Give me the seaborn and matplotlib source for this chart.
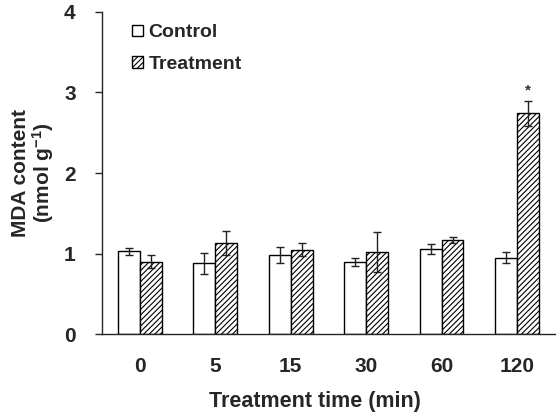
import matplotlib
matplotlib.use("Agg")
import matplotlib.pyplot as plt
import seaborn as sns
import pandas as pd
import numpy as np

times = ['0', '5', '15', '30', '60', '120']
control = [1.03, 0.88, 0.98, 0.90, 1.06, 0.95]
control_err = [0.04, 0.13, 0.10, 0.05, 0.06, 0.07]
treatment = [0.90, 1.13, 1.05, 1.02, 1.17, 2.74]
treatment_err = [0.08, 0.15, 0.08, 0.25, 0.035, 0.155]
groups = ['Control', 'Treatment']

df = pd.DataFrame({
    'time': times * 2,
    'mda': control + treatment,
    'group': [groups[0]] * len(times) + [groups[1]] * len(times),
})

sns.set_style('ticks')
plt.rcParams['font.family'] = ['Liberation Sans', 'DejaVu Sans']
plt.rcParams['font.weight'] = 'bold'
plt.rcParams['mathtext.default'] = 'regular'
plt.rcParams['hatch.color'] = '#333333'
plt.rcParams['hatch.linewidth'] = 0.8

fig = plt.figure(figsize=(5.59, 4.17), dpi=100)
ax = fig.add_axes([0.1825, 0.198, 0.81, 0.774])

sns.barplot(data=df, x='time', y='mda', hue='group', order=times,
            hue_order=groups, palette=['white', 'white'], width=0.58,
            errorbar=None, edgecolor='black', linewidth=1, ax=ax)

# hatch treatment bars, then draw error bars on every bar
cont_bars = ax.containers[0]
treat_bars = ax.containers[1]
for p in treat_bars:
    p.set_hatch('//////')
for bars, errs in [(cont_bars, control_err), (treat_bars, treatment_err)]:
    xs = [p.get_x() + p.get_width() / 2 for p in bars]
    ys = [p.get_height() for p in bars]
    ax.errorbar(xs, ys, yerr=errs, fmt='none', ecolor='#222222',
                elinewidth=1, capsize=3, capthick=1)

# significance mark
last = treat_bars[-1]
ax.text(last.get_x() + last.get_width() / 2, treatment[-1] + treatment_err[-1] + 0.04,
        '*', ha='center', va='bottom', fontsize=11, color='#333333')

ax.set_ylim(0, 4)
ax.set_xlim(-0.5, 5.5)
ax.set_yticks([0, 1, 2, 3, 4])
ax.tick_params(axis='y', labelsize=15, length=5, width=1, pad=14)
ax.tick_params(axis='x', labelsize=15, length=0, pad=16)
for lab in ax.get_xticklabels() + ax.get_yticklabels():
    lab.set_fontweight('bold')
sns.despine(ax=ax)
ax.spines['left'].set_linewidth(1)
ax.spines['bottom'].set_linewidth(1)

ax.set_xlabel('Treatment time (min)', fontsize=15.5, fontweight='bold')
ax.xaxis.set_label_coords(0.47, -0.175)
ax.set_ylabel('MDA content\n(nmol g$^{-1}$)', fontsize=15,
              fontweight='bold', labelpad=6, linespacing=1.0)

ax.legend(handles=[cont_bars[0], treat_bars[0]], labels=groups,
          loc='upper left', bbox_to_anchor=(0.038, 1.0), frameon=False,
          prop={'size': 14, 'weight': 'bold'}, handlelength=0.55,
          handleheight=0.55, handletextpad=0.3, labelspacing=0.75,
          borderaxespad=0.25)

fig.savefig('out.png', dpi=100)
